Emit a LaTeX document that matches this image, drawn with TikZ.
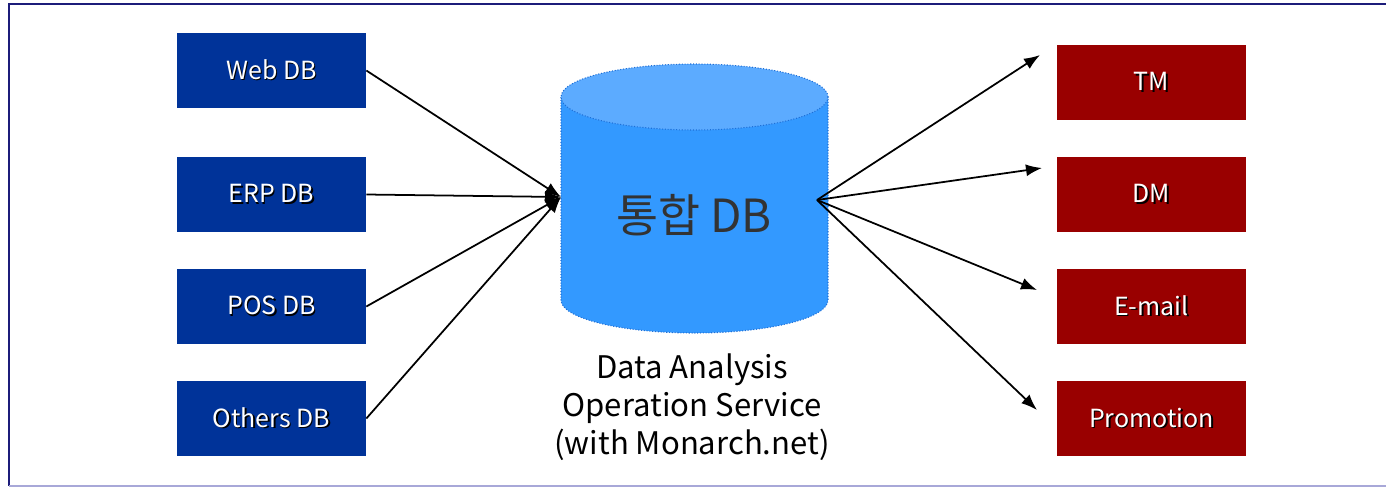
\documentclass[tikz,border=0pt]{standalone}
\usepackage{fontspec}
\setmainfont{Noto Sans CJK KR}
\usetikzlibrary{arrows.meta}
\definecolor{srcblue}{HTML}{003399}
\definecolor{outred}{HTML}{990000}
\definecolor{dbbody}{HTML}{3399FF}
\definecolor{dbtop}{HTML}{5CABFF}
\definecolor{dbedge}{HTML}{1F6FD6}
\definecolor{framenavy}{HTML}{1C1C7A}
\definecolor{framelight}{HTML}{A8A8D8}
\def\shtext#1{\rlap{\kern0.8pt\raisebox{-0.8pt}{\color{black}#1}}#1}
\tikzset{
	srcbox/.style={fill=srcblue, text=white, inner sep=0pt, minimum width=3.78cm, minimum height=1.5cm, font=\fontsize{14.2}{16}\selectfont},
	outbox/.style={srcbox, fill=outred},
	feed/.style={line width=1pt, -{Latex[length=0.32cm, width=0.24cm]}}
}

\begin{document}
\begin{tikzpicture}[x=0.02cm, y=0.02cm]
			%%%%% START %%%%%
			\useasboundingbox (0, 0) rectangle (1386, -487);
			
			% frame
			\draw[line width=1.2pt, color=framenavy] (1386, -4) -- (9, -4) -- (9, -486);
			\draw[line width=0.8pt, color=framelight] (9, -486) -- (1386, -486);
			
			% source databases
			\node[srcbox] (web) at (271.5, -70.5) {\shtext{Web DB}};
			\node[srcbox] (erp) at (271.5, -194.5) {\shtext{ERP DB}};
			\node[srcbox] (pos) at (271.5, -306.5) {\shtext{POS DB}};
			\node[srcbox] (oth) at (271.5, -418.5) {\shtext{Others DB}};
			
			% channels
			\node[outbox] (tm) at (1151.5, -82.5) {\shtext{TM}};
			\node[outbox] (dm) at (1151.5, -194.5) {\shtext{DM}};
			\node[outbox] (mail) at (1151.5, -306.5) {\shtext{E-mail}};
			\node[outbox] (promo) at (1151.5, -418.5) {\shtext{Promotion}};
			
			% integrated db cylinder
			\draw[fill=dbbody, draw=dbedge, densely dotted, line width=0.6pt] (561, -97) -- (561, -300) arc (180:360:133.5 and 33) -- (828, -97) -- cycle;
			\draw[fill=dbtop, draw=dbedge, densely dotted, line width=0.6pt] (694.5, -97) ellipse (133.5 and 33);
			\node[text=black!80, font=\fontsize{26}{30}\selectfont] (db) at (694, -215) {통합 DB};
			
			\node[align=center, font=\fontsize{17.7}{21.5}\selectfont] (cap) at (692, -407) {Data Analysis\\Operation Service\\(with Monarch.net)};
			
			\coordinate (hubin) at (561, -197);
			\coordinate (hubout) at (817, -200);
			\coordinate (tmend) at (1040, -55);
			\coordinate (dmend) at (1042, -168);
			\coordinate (mailend) at (1037, -290);
			\coordinate (promoend) at (1037, -410);
			
			\draw[feed] (web.east) -- (hubin);
			\draw[feed] (erp.east) -- (hubin);
			\draw[feed] (pos.east) -- (hubin);
			\draw[feed] (oth.east) -- (hubin);
			
			\draw[feed] (hubout) -- (tmend);
			\draw[feed] (hubout) -- (dmend);
			\draw[feed] (hubout) -- (mailend);
			\draw[feed] (hubout) -- (promoend);
			
			%%%%% END %%%%%
\end{tikzpicture}
\end{document}
